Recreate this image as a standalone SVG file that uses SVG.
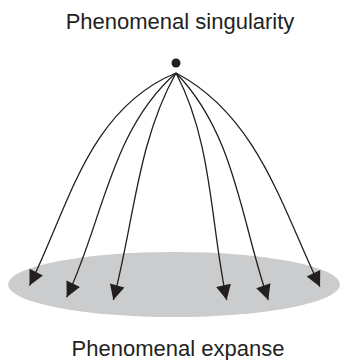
<svg xmlns="http://www.w3.org/2000/svg" width="341" height="360" viewBox="0 0 341 360">
  <style>
    .label { font-family: "Liberation Sans", Arial, Helvetica, sans-serif; font-size: 22px; fill: #231f20; text-anchor: middle; }
    .arc { fill: none; stroke: #231f20; stroke-width: 1.3; marker-end: url(#arrow); }
  </style>
  <defs>
    <marker id="arrow" markerUnits="userSpaceOnUse" viewBox="-16 -8 17 16" refX="0" refY="0" markerWidth="17" markerHeight="16" orient="auto">
      <path d="M0,0 L-15,-7.5 L-15,7.5 Z" fill="#231f20"/>
    </marker>
  </defs>
  <rect width="341" height="360" fill="#ffffff"/>
  <g id="expanse">
    <ellipse cx="174" cy="284.5" rx="166" ry="32.5" fill="#cbcccd"/>
    <text class="label" x="178" y="356">Phenomenal expanse</text>
  </g>
  <g id="singularity">
    <circle cx="176" cy="63" r="4.5" fill="#231f20"/>
    <text class="label" x="180" y="29">Phenomenal singularity</text>
  </g>
  <g id="connectors">
    <path class="arc" d="M176,73 C87.5,109.4 68.3,208.3 29.5,285.5"/>
    <path class="arc" d="M176,73 C110.4,130.3 102.6,222.6 66.7,297.3"/>
    <path class="arc" d="M176,73 C136.9,142.5 133.8,224.2 113.3,300"/>
    <path class="arc" d="M176,73 C212.7,142.5 210.4,224.2 226.7,300"/>
    <path class="arc" d="M176,73 C235.5,133.8 241.4,223.3 268.3,300"/>
    <path class="arc" d="M176,73 C257.9,115.9 282.6,209.2 320,286.7"/>
  </g>
</svg>
